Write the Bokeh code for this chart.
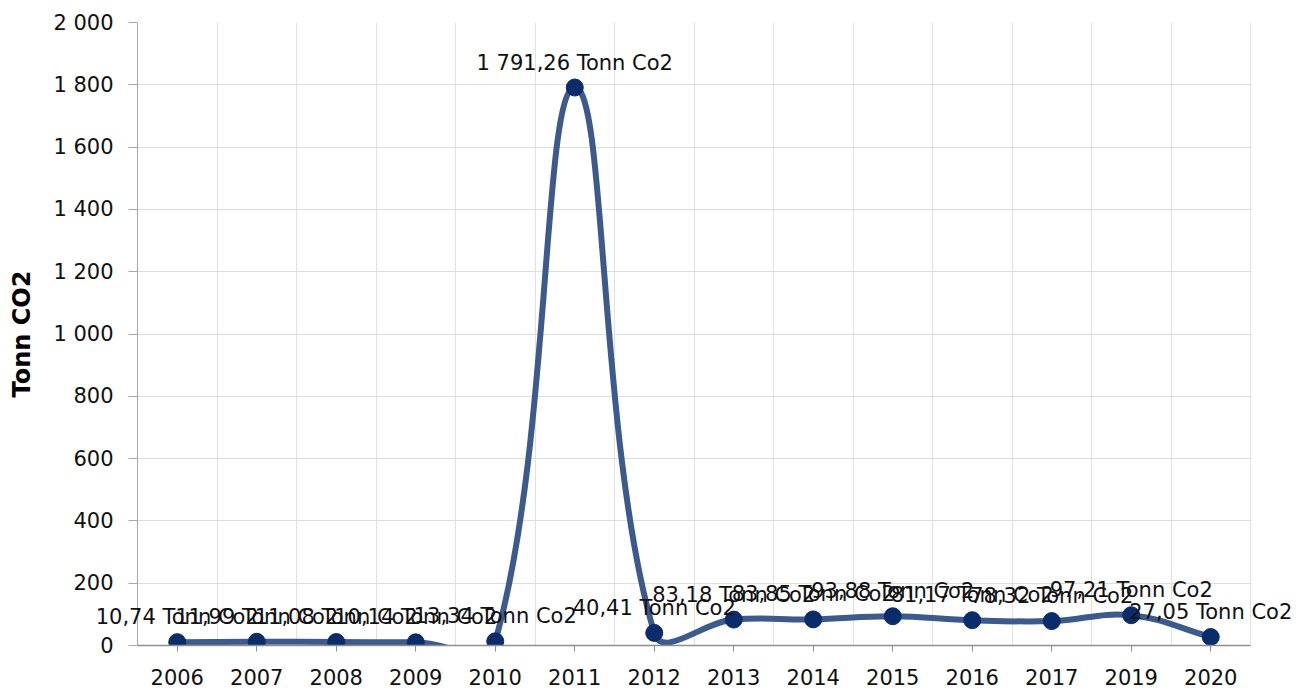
import math
from bokeh.plotting import figure
from bokeh.models import (Range1d, FixedTicker, SingleIntervalTicker,
                          CustomJSTickFormatter, ColumnDataSource, LabelSet,
                          BoxAnnotation, Span)
from bokeh.core.properties import value
from bokeh.embed import file_html
from bokeh.resources import INLINE

# ---- data ----
years = ["2006", "2007", "2008", "2009", "2010", "2011", "2012",
         "2013", "2014", "2015", "2016", "2017", "2019", "2020"]
emissions = [10.74, 11.99, 11.08, 10.14, 13.34, 1791.26, 40.41,
             83.18, 83.85, 93.88, 81.17, 78.32, 97.21, 27.05]
unit_text = "Tonn Co2"
y_title = "Tonn CO2"
y_max = 2000
y_step = 200

# ---- layout (pixels) ----
W, H = 1296, 691
AXIS_X = 137        # where the value axis line sits
PLOT_RIGHT = 1250   # right edge of the plotting area
FRAME_LEFT = 80     # frame extends further so data labels are not clipped
LABEL_RIGHT = 113   # right edge of the value-axis tick labels
MT, MB = 22, 46
FONT = "DejaVu Sans"
LINE_COLOR = "#3c5a8c"
DOT_COLOR = "#0b2c6b"
AXIS_GRAY = "#a8a8a8"

n = len(years)
xs = [i + 0.5 for i in range(n)]
sx = (PLOT_RIGHT - AXIS_X) / n
sy = (H - MT - MB) / y_max


def spline_controls(xv, yv, tension=0.4):
    pts = [(x * sx, y * sy) for x, y in zip(xv, yv)]
    m = len(pts)
    prev_c, next_c = [], []
    for i in range(m):
        a = pts[max(i - 1, 0)]
        b = pts[i]
        c = pts[min(i + 1, m - 1)]
        d01 = math.dist(a, b)
        d12 = math.dist(b, c)
        tot = d01 + d12
        s01 = d01 / tot if tot else 0.0
        s12 = d12 / tot if tot else 0.0
        fa, fb = tension * s01, tension * s12
        prev_c.append(((b[0] - fa * (c[0] - a[0])) / sx, (b[1] - fa * (c[1] - a[1])) / sy))
        next_c.append(((b[0] + fb * (c[0] - a[0])) / sx, (b[1] + fb * (c[1] - a[1])) / sy))
    return prev_c, next_c


prev_c, next_c = spline_controls(xs, emissions)
seg = ColumnDataSource(dict(
    x0=xs[:-1], y0=emissions[:-1], x1=xs[1:], y1=emissions[1:],
    cx0=[c[0] for c in next_c[:-1]], cy0=[c[1] for c in next_c[:-1]],
    cx1=[c[0] for c in prev_c[1:]], cy1=[c[1] for c in prev_c[1:]],
))


def fmt(v):
    s = format(v, ",.2f").replace(",", " ").replace(".", ",")
    return f"{s} {unit_text}"


pts = ColumnDataSource(dict(x=xs, y=emissions, label=[fmt(v) for v in emissions]))

x_start = -(AXIS_X - FRAME_LEFT) / sx
x_end = n + (W - PLOT_RIGHT) / sx

p = figure(width=W, height=H, output_backend="svg", toolbar_location=None,
           x_range=Range1d(x_start, x_end), y_range=Range1d(0, y_max),
           min_border_left=FRAME_LEFT, min_border_right=0,
           min_border_top=MT, min_border_bottom=MB,
           background_fill_color="white", border_fill_color="white")
p.outline_line_color = None

# grids
p.xgrid.ticker = FixedTicker(ticks=list(range(0, n + 1)))
p.xgrid.grid_line_color = "#e0e0e0"
p.ygrid.grid_line_color = "#dedede"

# mask grid outside the plotting area (frame is wider only for the labels)
p.add_layout(BoxAnnotation(right=0, fill_color="white", fill_alpha=1,
                           line_color=None, level="underlay"))
p.add_layout(BoxAnnotation(left=n + 1.0 / sx, fill_color="white", fill_alpha=1,
                           line_color=None, level="underlay"))
p.add_layout(Span(location=0, dimension="height", line_color=AXIS_GRAY,
                  line_width=1, level="underlay"))

p.bezier(x0="x0", y0="y0", x1="x1", y1="y1", cx0="cx0", cy0="cy0",
         cx1="cx1", cy1="cy1", source=seg, line_color=LINE_COLOR,
         line_width=6, line_cap="round")
p.scatter("x", "y", source=pts, size=17, fill_color=DOT_COLOR,
          line_color=DOT_COLOR)

labels = LabelSet(x="x", y="y", text="label", source=pts,
                  text_align="center", text_baseline="alphabetic",
                  y_offset=18, text_font=value(FONT), text_font_size=value("21px"),
                  text_color="#111111")
p.add_layout(labels)

# x axis
p.xaxis.bounds = (0, n)
p.xaxis.ticker = FixedTicker(ticks=xs)
p.xaxis.formatter = CustomJSTickFormatter(args=dict(years=years),
                                          code="return years[Math.floor(tick)];")
p.xaxis.major_label_text_font = FONT
p.xaxis.major_label_text_font_size = "21px"
p.xaxis.major_label_text_color = "#111111"
p.xaxis.major_label_standoff = 17
p.xaxis.major_tick_in = 0
p.xaxis.major_tick_out = 6
p.xaxis.minor_tick_line_color = None
p.xaxis.axis_line_color = "#8e8e8e"
p.xaxis.axis_line_width = 1.5
p.xaxis.major_tick_line_color = "#8e8e8e"

# y axis: the axis sits on the frame edge; its ticks and labels are shifted
# so that they line up with the plotting area's left edge
shift = AXIS_X - FRAME_LEFT
p.yaxis.ticker = SingleIntervalTicker(interval=y_step, num_minor_ticks=0)
p.yaxis.formatter = CustomJSTickFormatter(
    code="return Math.round(tick).toString().replace(/\\B(?=(\\d{3})+(?!\\d))/g, ' ');")
p.yaxis.major_label_text_font = FONT
p.yaxis.major_label_text_font_size = "21px"
p.yaxis.major_label_text_color = "#111111"
p.yaxis.major_tick_in = shift
p.yaxis.major_tick_out = -(shift - 9)
p.yaxis.major_label_standoff = FRAME_LEFT - LABEL_RIGHT
p.yaxis.minor_tick_line_color = None
p.yaxis.axis_line_color = None
p.yaxis.major_tick_line_color = AXIS_GRAY
p.yaxis.axis_label = y_title
p.yaxis.axis_label_text_font = FONT
p.yaxis.axis_label_text_font_style = "bold"
p.yaxis.axis_label_text_font_size = "24px"
p.yaxis.axis_label_text_color = "#000000"
p.yaxis.axis_label_standoff = 14

open("out.html", "w").write(file_html(p, INLINE))
